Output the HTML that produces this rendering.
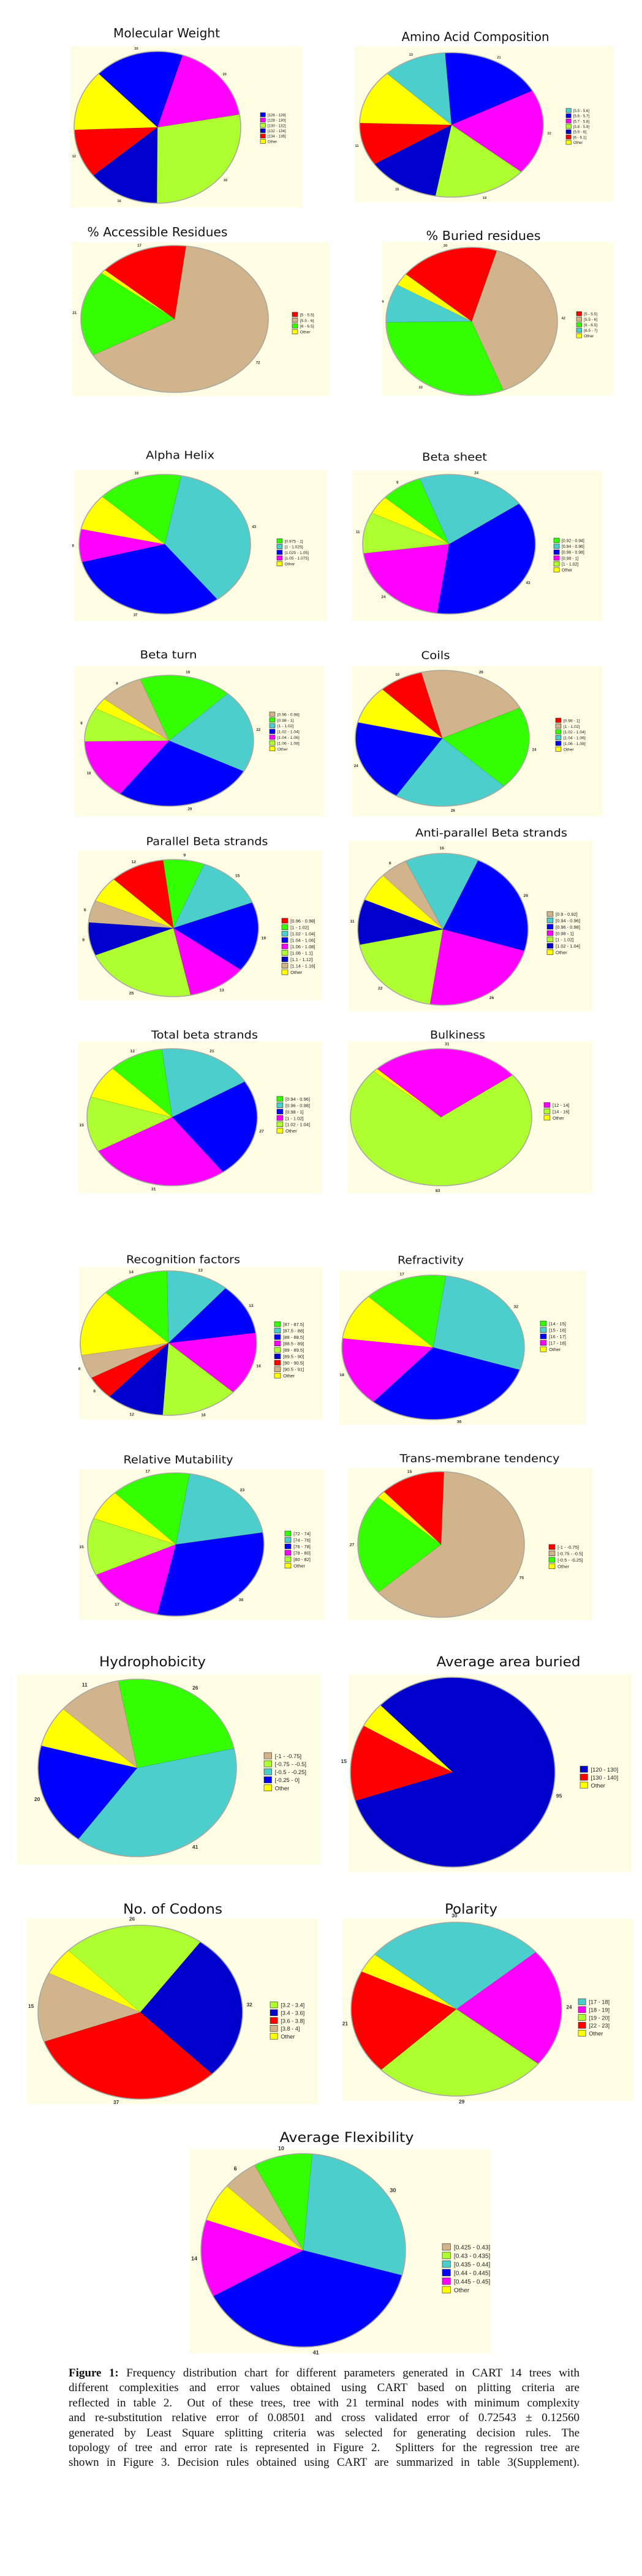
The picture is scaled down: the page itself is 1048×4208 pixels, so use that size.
<!DOCTYPE html>
<html><head><meta charset="utf-8">
<style>
html,body{margin:0;padding:0;background:#fff;}
#wrap{position:relative;width:1048px;height:4208px;overflow:hidden;}
svg{position:absolute;left:0;top:0;}
#caption{position:absolute;left:112px;top:3865px;width:834px;font-family:"Liberation Serif",serif;font-size:19px;line-height:24.4px;color:#111;}
#caption div{text-align:justify;text-align-last:justify;white-space:nowrap;overflow:visible;}
</style></head>
<body>
<div id="wrap">
<svg id="fig" width="1048" height="4208" viewBox="0 0 1048 4208" xmlns="http://www.w3.org/2000/svg"></svg>
<div id="caption">
<div><b>Figure 1:</b> Frequency distribution chart for different parameters generated in CART 14 trees with</div>
<div>different complexities and error values obtained using CART based on plitting criteria are</div>
<div>reflected in table 2.&nbsp; Out of these trees, tree with 21 terminal nodes with minimum complexity</div>
<div>and re-substitution relative error of 0.08501 and cross validated error of 0.72543 ± 0.12560</div>
<div>generated by Least Square splitting criteria was selected for generating decision rules. The</div>
<div>topology of tree and error rate is represented in Figure 2.&nbsp; Splitters for the regression tree are</div>
<div>shown in Figure 3. Decision rules obtained using CART are summarized in table 3(Supplement).</div>
</div>
</div>
<script>
// ---- data: slice values (clockwise order) and legend categories ----
const values_mw = [20, 20, 32, 16, 12, 15];
const legend_mw = ["[126 - 128]", "[128 - 130]", "[130 - 132]", "[132 - 134]", "[134 - 136]", "Other"];
const values_aac = [21, 22, 19, 15, 11, 14, 13];
const legend_aac = ["[5.5 - 5.6]", "[5.6 - 5.7]", "[5.7 - 5.8]", "[5.8 - 5.9]", "[5.9 - 6]", "[6 - 6.1]", "Other"];
const values_acc = [72, 21, 1, 17];
const legend_acc = ["[5 - 5.5]", "[5.5 - 6]", "[6 - 6.5]", "Other"];
const values_bur = [42, 33, 9, 3, 20];
const legend_bur = ["[5 - 5.5]", "[5.5 - 6]", "[6 - 6.5]", "[6.5 - 7]", "Other"];
const values_alpha = [43, 37, 9, 10, 19];
const legend_alpha = ["[0.975 - 1]", "[1 - 1.025]", "[1.025 - 1.05]", "[1.05 - 1.075]", "Other"];
const values_sheet = [24, 43, 24, 11, 5, 9];
const legend_sheet = ["[0.92 - 0.94]", "[0.94 - 0.96]", "[0.96 - 0.98]", "[0.98 - 1]", "[1 - 1.02]", "Other"];
const values_turn = [19, 22, 29, 16, 9, 3, 9];
const legend_turn = ["[0.96 - 0.98]", "[0.98 - 1]", "[1 - 1.02]", "[1.02 - 1.04]", "[1.04 - 1.06]", "[1.06 - 1.08]", "Other"];
const values_coil = [26, 24, 26, 24, 11, 10];
const legend_coil = ["[0.98 - 1]", "[1 - 1.02]", "[1.02 - 1.04]", "[1.04 - 1.06]", "[1.06 - 1.08]", "Other"];
const values_par = [9, 15, 19, 13, 25, 9, 6, 7, 12];
const legend_par = ["[0.96 - 0.98]", "[1 - 1.02]", "[1.02 - 1.04]", "[1.04 - 1.06]", "[1.06 - 1.08]", "[1.08 - 1.1]", "[1.1 - 1.12]", "[1.14 - 1.16]", "Other"];
const values_anti = [16, 26, 26, 22, 11, 7, 6];
const legend_anti = ["[0.9 - 0.92]", "[0.94 - 0.96]", "[0.96 - 0.98]", "[0.98 - 1]", "[1 - 1.02]", "[1.02 - 1.04]", "Other"];
const values_tot = [21, 27, 31, 15, 9, 12];
const legend_tot = ["[0.94 - 0.96]", "[0.96 - 0.98]", "[0.98 - 1]", "[1 - 1.02]", "[1.02 - 1.04]", "Other"];
const values_bulk = [31, 83, 1];
const legend_bulk = ["[12 - 14]", "[14 - 16]", "Other"];
const values_rec = [13, 13, 16, 16, 12, 6, 6, 17, 14];
const legend_rec = ["[87 - 87.5]", "[87.5 - 88]", "[88 - 88.5]", "[88.5 - 89]", "[89 - 89.5]", "[89.5 - 90]", "[90 - 90.5]", "[90.5 - 91]", "Other"];
const values_ref = [32, 36, 18, 12, 17];
const legend_ref = ["[14 - 15]", "[15 - 16]", "[16 - 17]", "[17 - 18]", "Other"];
const values_mut = [23, 36, 17, 15, 8, 17];
const legend_mut = ["[72 - 74]", "[74 - 76]", "[76 - 78]", "[78 - 80]", "[80 - 82]", "Other"];
const values_tm = [75, 27, 2, 15];
const legend_tm = ["[-1 - -0.75]", "[-0.75 - -0.5]", "[-0.5 - -0.25]", "Other"];
const values_hyd = [26, 41, 20, 8, 11];
const legend_hyd = ["[-1 - -0.75]", "[-0.75 - -0.5]", "[-0.5 - -0.25]", "[-0.25 - 0]", "Other"];
const values_area = [95, 15, 5];
const legend_area = ["[120 - 130]", "[130 - 140]", "Other"];
const values_cod = [32, 37, 15, 6, 26];
const legend_cod = ["[3.2 - 3.4]", "[3.4 - 3.6]", "[3.6 - 3.8]", "[3.8 - 4]", "Other"];
const values_pol = [24, 29, 21, 4, 30];
const legend_pol = ["[17 - 18]", "[18 - 19]", "[19 - 20]", "[22 - 23]", "Other"];
const values_flex = [30, 41, 14, 7, 6, 10];
const legend_flex = ["[0.425 - 0.43]", "[0.43 - 0.435]", "[0.435 - 0.44]", "[0.44 - 0.445]", "[0.445 - 0.45]", "Other"];

const COL = {b:'#0000ff', m:'#ff00ff', l:'#adff2f', n:'#0000cc', r:'#ff0000', y:'#ffff00', c:'#4ccfcc', g:'#33ff00', t:'#d2b48c'};

// layout: panel, title, ellipse, start angle, slice colours, legend colours
const charts = [
 {id:'molecular-weight', t:'Molecular Weight', tx:272,ty:54,tw:174,fs:20, p:[116,76,377,263], e:[257,208,136,124], st:315, v:values_mw, sc:'bmlnry', lg:legend_mw, lc:'bmlnry', l:[425,184,8.7]},
 {id:'amino-acid-composition', t:'Amino Acid Composition', tx:776,ty:60,tw:241,fs:20, p:[579,76,422,254], e:[737,204,150,118], st:356, v:values_aac, sc:'bmlnryc', lg:legend_aac, lc:'cbmlnry', l:[924,177,8.7]},
 {id:'accessible-residues', t:'% Accessible Residues', tx:257,ty:379,tw:229,fs:20, p:[117,396,420,251], e:[285,521,153,120], st:7, v:values_acc, sc:'tgyr', lg:legend_acc, lc:'rtgy', l:[477,510,9.4]},
 {id:'buried-residues', t:'% Buried residues', tx:789,ty:385,tw:187,fs:20, p:[624,395,377,251], e:[770,525,140,121], st:17, v:values_bur, sc:'tgcyr', lg:legend_bur, lc:'rtgcy', l:[941,509,9]},
 {id:'alpha-helix', t:'Alpha Helix', tx:294,ty:743,tw:112,fs:18, p:[122,768,411,246], e:[269,889,140,114], st:11, v:values_alpha, sc:'cbmyg', lg:legend_alpha, lc:'gcbmy', l:[452,880,9.3]},
 {id:'beta-sheet', t:'Beta sheet', tx:742,ty:746,tw:106,fs:18, p:[575,769,408,245], e:[733,889,141,114], st:340, v:values_sheet, sc:'cbmlyg', lg:legend_sheet, lc:'gcbmly', l:[904,879,9.6]},
 {id:'beta-turn', t:'Beta turn', tx:275,ty:1069,tw:93,fs:18, p:[122,1088,408,245], e:[276,1210,138,107], st:340, v:values_turn, sc:'gcbmlyt', lg:legend_turn, lc:'tgcbmly', l:[440,1163,9.4]},
 {id:'coils', t:'Coils', tx:711,ty:1070,tw:47,fs:18, p:[574,1088,409,245], e:[722,1206,142,111], st:346, v:values_coil, sc:'tgcbyr', lg:legend_coil, lc:'rtgcby', l:[907,1173,9.4]},
 {id:'parallel-beta-strands', t:'Parallel Beta strands', tx:338,ty:1374,tw:199,fs:18, p:[127,1389,399,245], e:[283,1516,139,112], st:353, v:values_par, sc:'gcbmlntyr', lg:legend_par, lc:'rgcbmlnty', l:[460,1500,10.5]},
 {id:'anti-parallel-beta-strands', t:'Anti-parallel Beta strands', tx:802,ty:1360,tw:248,fs:18, p:[569,1373,398,279], e:[723,1518,139,124], st:334, v:values_anti, sc:'cbmlnyt', lg:legend_anti, lc:'tcbmlny', l:[893,1489,10.4]},
 {id:'total-beta-strands', t:'Total beta strands', tx:334,ty:1690,tw:174,fs:18, p:[127,1701,399,248], e:[281,1825,139,112], st:353, v:values_tot, sc:'cbmlyg', lg:legend_tot, lc:'gcbmly', l:[452,1791,10.4]},
 {id:'bulkiness', t:'Bulkiness', tx:747,ty:1690,tw:90,fs:18, p:[568,1701,399,248], e:[720,1825,148,112], st:315, v:values_bulk, sc:'mly', lg:legend_bulk, lc:'mly', l:[888,1801,10.4]},
 {id:'recognition-factors', t:'Recognition factors', tx:299,ty:2057,tw:186,fs:18, p:[129,2070,398,249], e:[275,2194,144,118], st:359, v:values_rec, sc:'cbmlnrtyg', lg:legend_rec, lc:'gcbmlnrty', l:[448,2159,10.5]},
 {id:'refractivity', t:'Refractivity', tx:703,ty:2058,tw:108,fs:18, p:[554,2076,402,251], e:[707,2201,149,118], st:8, v:values_ref, sc:'cbmyg', lg:legend_ref, lc:'gcbmy', l:[882,2158,10.5]},
 {id:'relative-mutability', t:'Relative Mutability', tx:291,ty:2384,tw:179,fs:18, p:[129,2400,400,246], e:[287,2523,144,117], st:9, v:values_mut, sc:'cbmlyg', lg:legend_mut, lc:'gcbmly', l:[465,2501,10.5]},
 {id:'trans-membrane-tendency', t:'Trans-membrane tendency', tx:783,ty:2382,tw:261,fs:18, p:[568,2398,399,248], e:[720,2523,136,119], st:2, v:values_tm, sc:'tgyr', lg:legend_tm, lc:'rtgy', l:[896,2523,10.5]},
 {id:'hydrophobicity', t:'Hydrophobicity', tx:249,ty:2714,tw:174,fs:22, p:[28,2735,495,311], e:[224,2888,162,145], st:349, v:values_hyd, sc:'gcbyt', lg:legend_hyd, lc:'tlcby', l:[431,2863,13.1]},
 {id:'average-area-buried', t:'Average area buried', tx:830,ty:2714,tw:235,fs:22, p:[569,2735,462,323], e:[739,2895,167,155], st:315, v:values_area, sc:'nry', lg:legend_area, lc:'nry', l:[947,2885,13]},
 {id:'number-of-codons', t:'No. of Codons', tx:282,ty:3118,tw:162,fs:22, p:[43,3134,476,303], e:[229,3287,167,142], st:36, v:values_cod, sc:'nrtyl', lg:legend_cod, lc:'lnrty', l:[441,3270,12.8]},
 {id:'polarity', t:'Polarity', tx:769,ty:3118,tw:86,fs:22, p:[559,3134,474,298], e:[745,3282,172,142], st:49, v:values_pol, sc:'mlryc', lg:legend_pol, lc:'cmlry', l:[944,3265,12.8]},
 {id:'average-flexibility', t:'Average Flexibility', tx:566,ty:3491,tw:219,fs:22, p:[309,3511,493,333], e:[495,3676,167,158], st:5, v:values_flex, sc:'cbmytg', lg:legend_flex, lc:'tlcbmy', l:[722,3665,14]}
];

const NS = 'http://www.w3.org/2000/svg';
const svg = document.getElementById('fig');
function mk(tag, attrs, parent){
  const el = document.createElementNS(NS, tag);
  for (const k in attrs) el.setAttribute(k, attrs[k]);
  parent.appendChild(el);
  return el;
}
function pt(e, deg, k){ const a = deg*Math.PI/180; return [e[0]+e[2]*k*Math.sin(a), e[1]-e[3]*k*Math.cos(a)]; }

charts.forEach(ch => {
  const g = mk('g', {}, svg);
  
  
  const bg = mk('rect', {x:ch.p[0], y:ch.p[1], width:ch.p[2], height:ch.p[3], fill:'#fffde3'}, g);
  
  
  const title = mk('text', {x:ch.tx, y:ch.ty + ch.fs*0.36, 'text-anchor':'middle', 'font-family':'DejaVu Sans, Liberation Sans, sans-serif', 'font-size':ch.fs, fill:'#111', textLength:ch.tw, lengthAdjust:'spacingAndGlyphs'}, g);
  title.textContent = ch.t;
  
  
  const total = ch.v.reduce((a,b)=>a+b,0);
  let ang = ch.st;
  const e = ch.e;
  ch.v.forEach((val, i) => {
    const sw = val/total*360;
    const p1 = pt(e, ang, 1), p2 = pt(e, ang+sw, 1);
    const d = `M${e[0]},${e[1]} L${p1[0].toFixed(1)},${p1[1].toFixed(1)} A${e[2]},${e[3]} 0 ${sw>180?1:0} 1 ${p2[0].toFixed(1)},${p2[1].toFixed(1)} Z`;
    const s = mk('path', {d:d, fill:COL[ch.sc[i]], stroke:'rgba(0,0,0,0.25)', 'stroke-width':0.5}, g);
    
    
    if (ch.sc[i] !== 'y') {
      const lp = pt(e, ang+sw/2, 1.07);
      const lt = mk('text', {x:lp[0].toFixed(1), y:(lp[1]+2).toFixed(1), 'text-anchor':'middle', 'font-family':'Liberation Sans, sans-serif', 'font-size':ch.l[2]*0.65, 'font-weight':'bold', fill:'#333'}, g);
      lt.textContent = val;
      
      
    }
    ang += sw;
  });
  const rim = mk('ellipse', {cx:e[0], cy:e[1], rx:e[2], ry:e[3], fill:'none', stroke:'#a8a8a0', 'stroke-width':1.6}, g);
  
  
  const sp = ch.l[2];
  ch.lg.forEach((lab, i) => {
    const y = ch.l[1] + i*sp;
    const sq = mk('rect', {x:ch.l[0], y:y, width:sp*0.95, height:sp*0.78, fill:COL[ch.lc[i]], stroke:'#222', 'stroke-width':0.6}, g);
    
    
    const tx = mk('text', {x:ch.l[0]+sp*1.35, y:y+sp*0.68, 'font-family':'Liberation Sans, sans-serif', 'font-size':sp*0.72, fill:'#222'}, g);
    tx.textContent = lab;
    
    
  });
});
</script>
</body></html>
